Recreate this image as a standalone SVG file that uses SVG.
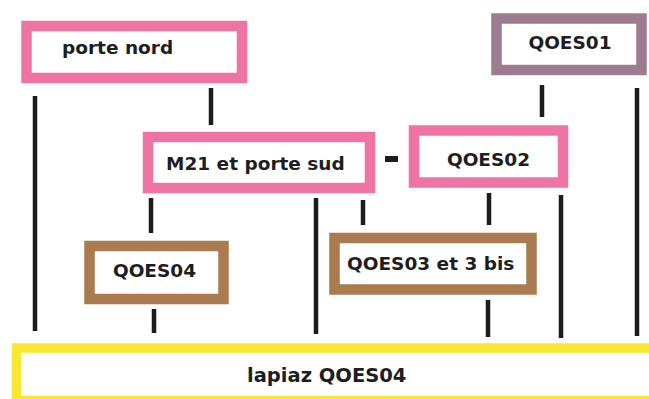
<svg xmlns="http://www.w3.org/2000/svg" width="649" height="399" viewBox="0 0 649 399">
<style>
.box{fill:#ffffff;stroke-width:10.5}
.pink{stroke:#ef74a6}
.brown{stroke:#a97b4e}
.mauve{stroke:#9d7b91}
.yellow{stroke:#f7e733;stroke-width:9.5}
.lbl{font-family:"DejaVu Sans",Verdana,sans-serif;font-weight:bold;font-size:18.5px;fill:#1e1e1e}
.c{text-anchor:middle}
#connectors line{stroke:#1c1c1c;stroke-width:4.5}
</style>
<rect width="649" height="399" fill="#ffffff"/>
<g id="connectors">
<line x1="35" y1="96" x2="35" y2="331"/>
<line x1="211" y1="88" x2="211" y2="125"/>
<line x1="542" y1="85" x2="542" y2="117"/>
<line x1="637" y1="88" x2="637" y2="336"/>
<line x1="151" y1="198" x2="151" y2="233"/>
<line x1="316" y1="198" x2="316" y2="334"/>
<line x1="363" y1="200" x2="363" y2="225"/>
<line x1="489" y1="193" x2="489" y2="225"/>
<line x1="561" y1="195" x2="561" y2="338"/>
<line x1="154" y1="309" x2="154" y2="333"/>
<line x1="488" y1="300" x2="488" y2="337"/>
<line x1="385" y1="159" x2="398" y2="159" style="stroke-width:6"/>
</g>
<g id="porte-nord">
<rect class="box pink" x="26.5" y="26" width="215.5" height="52"/>
<text class="lbl" x="62" y="54">porte nord</text>
</g>
<g id="QOES01">
<rect class="box mauve" x="496.5" y="18.5" width="145" height="51.5"/>
<text class="lbl c" x="570" y="49">QOES01</text>
</g>
<g id="M21">
<rect class="box pink" x="148" y="137" width="222" height="51"/>
<text class="lbl" x="166" y="170">M21 et porte sud</text>
</g>
<g id="QOES02">
<rect class="box pink" x="414" y="130.5" width="149" height="52"/>
<text class="lbl c" x="488.5" y="166">QOES02</text>
</g>
<g id="QOES04">
<rect class="box brown" x="89.5" y="246" width="134" height="53"/>
<text class="lbl c" x="154.5" y="277">QOES04</text>
</g>
<g id="QOES03">
<rect class="box brown" x="334.5" y="238" width="197" height="51.5"/>
<text class="lbl" x="347" y="270">QOES03 et 3 bis</text>
</g>
<g id="lapiaz">
<rect class="box yellow" x="16.5" y="348" width="650" height="52.5"/>
<text class="lbl" x="247" y="382" style="font-size:19.5px">lapiaz QOES04</text>
</g>
</svg>
